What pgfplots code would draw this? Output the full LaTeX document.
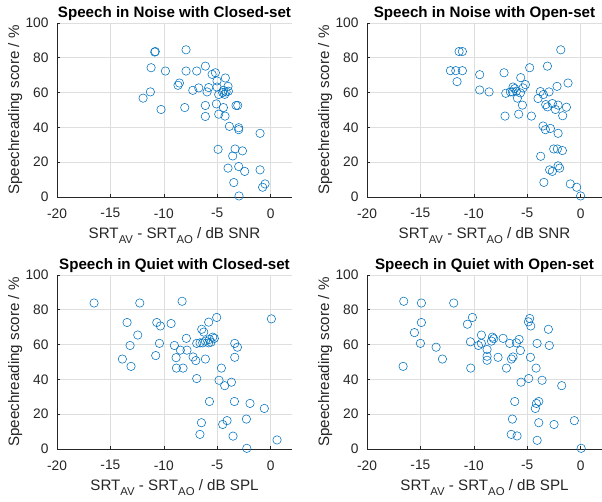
\documentclass[border=0pt]{standalone}
\usepackage{pgfplots}
\pgfplotsset{compat=1.18}
\usepackage{fontspec}
\setmainfont{Liberation Sans}

\definecolor{mblue}{RGB}{0,114,189}
\definecolor{axgray}{RGB}{38,38,38}
\definecolor{gridgray}{RGB}{222,222,222}

\newcommand{\sub}[1]{\raisebox{-0.55ex}{\fontsize{11.4}{12}\selectfont #1}}

\pgfplotsset{
  panel/.style={
    scale only axis, width=235bp, height=174bp,
    xmin=-20, xmax=2, ymin=0, ymax=100,
    xtick={-20,-15,-10,-5,0}, xticklabels={-20,-15,-10,-5,0},
    ytick={0,20,40,60,80,100}, yticklabels={0,20,40,60,80,100},
    axis x line*=bottom, axis y line*=left,
    axis line style={axgray, line width=0.6bp},
    tick style={axgray, line width=0.6bp},
    tick align=inside, major tick length=2.5bp,
    grid=major, grid style={gridgray, line width=0.6bp},
    tick label style={font=\fontsize{13.8}{16}\selectfont, text=axgray},
    xticklabel style={yshift=-8bp},
    yticklabel style={xshift=-5bp},
    label style={font=\fontsize{15.2}{18}\selectfont, text=axgray},
    xlabel style={at={(axis description cs:0.5,-0.240)}, anchor=base},
    ylabel style={at={(axis description cs:-0.161,0.5)}, anchor=base},
    title style={font=\fontsize{15.2}{18}\selectfont\bfseries, text=black,
      at={(axis description cs:0.5,1)}, anchor=base, yshift=0bp},
    ylabel={Speechreading score / \%},
    clip=false,
  },
  pts/.style={only marks, mark=o, mark size=4.2bp, mblue, line width=0.55bp},
}

\begin{document}
\begin{tikzpicture}
% top left
\begin{axis}[panel, at={(57bp,305bp)}, anchor=south west,
  title={Speech in Noise with Closed-set},
  xlabel={SRT\sub{AV} - SRT\sub{AO} / dB SNR}]
\addplot[pts] coordinates {
(-10.8,83.6) (-10.85,83.3) (-7.92,84.6) (-11.19,74.3) (-9.85,72.4) (-7.92,72.4)
(-6.92,72.4) (-6.11,75.2) (-5.48,70.5) (-5.17,71.4) (-4.24,68.4) (-5.02,66.7)
(-8.67,64.2) (-8.54,65.5) (-6.73,62.7) (-5.80,62.9) (-7.29,61.3) (-5.95,60.4)
(-5.02,63.2) (-3.99,63.6) (-4.42,61.3) (-4.17,60.4) (-4.86,58.9) (-4.30,59.0)
(-3.96,60.8) (-4.49,60.0) (-11.26,60.4) (-11.94,56.8) (-10.26,50.3) (-8.04,51.4)
(-6.11,52.6) (-5.08,53.5) (-4.42,51.4) (-3.24,52.6) (-3.08,52.6) (-6.11,46.3)
(-4.86,47.6) (-4.27,46.5) (-3.86,40.6) (-2.99,39.8) (-2.99,38.7) (-0.99,36.6)
(-4.92,27.4) (-3.33,27.6) (-2.64,26.5) (-3.55,23.6) (-3.99,16.6) (-2.99,17.5)
(-2.43,14.7) (-0.99,15.6) (-3.45,8.3) (-0.75,5.6) (-0.52,7.5) (-2.96,0.6)
};
\end{axis}
% top right
\begin{axis}[panel, at={(367bp,305bp)}, anchor=south west,
  title={Speech in Noise with Open-set},
  xlabel={SRT\sub{AV} - SRT\sub{AO} / dB SNR}]
\addplot[pts] coordinates {
(-11.38,83.6) (-11.07,83.6) (-1.86,84.6) (-12.19,72.6) (-11.69,72.6) (-11.07,72.6)
(-11.57,66.3) (-9.45,70.3) (-7.17,71.4) (-4.77,74.3) (-3.11,75.2) (-5.61,68.6)
(-9.45,61.5) (-8.57,60.4) (-7.01,59.6) (-6.58,60.4) (-6.33,63.2) (-6.17,62.3)
(-6.39,60.4) (-6.02,60.8) (-5.17,64.6) (-5.39,62.7) (-5.64,59.8) (-5.92,56.8)
(-5.45,52.8) (-7.08,46.5) (-5.80,47.6) (-4.61,46.5) (-3.77,60.6) (-3.49,58.9)
(-3.99,56.6) (-2.96,60.4) (-2.21,63.6) (-1.18,65.5) (-3.27,53.1) (-3.11,51.8)
(-2.65,53.7) (-2.11,52.8) (-2.36,50.3) (-1.33,51.6) (-1.68,46.7) (-3.52,40.8)
(-3.30,38.7) (-2.83,39.4) (-2.11,36.6) (-2.52,27.6) (-2.18,27.6) (-1.71,26.7)
(-3.74,23.4) (-2.90,15.6) (-2.65,14.7) (-2.11,17.9) (-1.96,16.6) (-3.44,8.4)
(-0.97,7.5) (-0.37,5.6) (0.0,0.6)
};
\end{axis}
% bottom left
\begin{axis}[panel, at={(57bp,53bp)}, anchor=south west,
  title={Speech in Quiet with Closed-set},
  xlabel={SRT\sub{AV} - SRT\sub{AO} / dB SPL}]
\addplot[pts] coordinates {
(-16.53,83.9) (-12.25,83.9) (-8.29,84.9) (-13.44,72.7) (-10.66,72.7) (-10.32,70.7)
(-9.32,72.1) (0.07,74.8) (-5.05,75.6) (-5.80,72.9) (-6.45,68.8) (-6.26,67.2)
(-12.44,65.5) (-13.16,59.5) (-10.41,60.7) (-9.01,59.5) (-7.89,63.6) (-8.45,56.8)
(-7.83,56.8) (-6.92,60.7) (-6.61,61.0) (-6.11,62.0) (-5.73,63.0) (-5.42,64.3)
(-5.27,63.6) (-6.36,61.0) (-5.80,61.0) (-5.58,61.4) (-3.36,60.7) (-3.11,58.5)
(-3.36,52.7) (-13.88,51.7) (-13.07,47.5) (-10.76,53.7) (-8.85,52.5) (-7.26,52.9)
(-7.01,50.8) (-6.11,51.7) (-8.82,46.5) (-8.20,46.5) (-4.61,46.5) (-6.92,40.5)
(-4.83,39.5) (-4.30,36.4) (-3.67,38.4) (-5.73,27.3) (-3.39,27.3) (-1.93,26.2)
(-0.59,23.3) (-6.48,15.1) (-4.08,16.3) (-4.49,14.1) (-2.27,17.2) (-6.62,8.4)
(-3.52,7.4) (-2.23,0.4) (0.6,5.2)
};
\end{axis}
% bottom right
\begin{axis}[panel, at={(367bp,53bp)}, anchor=south west,
  title={Speech in Quiet with Open-set},
  xlabel={SRT\sub{AV} - SRT\sub{AO} / dB SPL}]
\addplot[pts] coordinates {
(-16.56,84.9) (-14.91,83.9) (-11.88,83.9) (-14.91,72.7) (-15.56,66.9) (-15.0,60.7)
(-13.53,58.5) (-12.94,51.7) (-16.62,47.5) (-10.60,71.7) (-10.13,75.6) (-10.32,61.6)
(-9.57,59.5) (-9.29,60.7) (-9.29,65.5) (-10.29,46.5) (-8.26,64.3) (-8.14,63.4)
(-8.35,62.0) (-7.26,63.6) (-8.76,57.2) (-8.76,53.3) (-8.76,51.0) (-7.73,52.7)
(-6.95,46.5) (-6.48,51.7) (-6.33,52.9) (-6.64,60.7) (-6.01,61.0) (-5.76,63.0)
(-5.64,56.6) (-4.77,75.0) (-4.89,73.1) (-4.67,70.7) (-3.02,68.8) (-4.08,60.7)
(-2.93,59.5) (-4.70,52.7) (-4.17,46.5) (-4.86,40.5) (-5.58,38.4) (-3.61,39.5)
(-1.77,36.4) (-6.17,27.3) (-4.14,26.2) (-3.92,27.3) (-4.24,23.3) (-6.39,17.2)
(-3.92,15.1) (-2.49,14.1) (-0.59,16.3) (-6.50,8.4) (-5.95,7.5) (-4.07,5.0)
(0.05,0.4)
};
\end{axis}
\pgfresetboundingbox
\useasboundingbox (0,0) rectangle (602bp,502bp);
\end{tikzpicture}
\end{document}
